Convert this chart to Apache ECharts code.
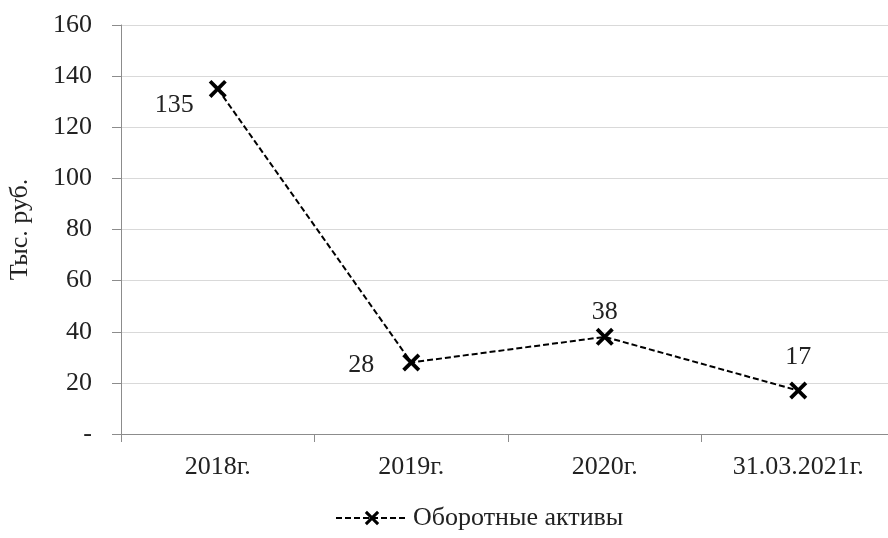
<!DOCTYPE html>
<html>
<head>
<meta charset="utf-8">
<script src="https://cdn.jsdelivr.net/npm/echarts@6/dist/echarts.min.js"></script>
<style>html,body{margin:0;padding:0;background:#fff;}#c{width:888px;height:538px;}</style>
</head>
<body>
<div id="c"></div>
<script>
var categories = ['2018г.', '2019г.', '2020г.', '31.03.2021г.'];
var values = [135, 28, 38, 17];
var seriesName = 'Оборотные активы';
var yTicks = [0, 20, 40, 60, 80, 100, 120, 140, 160];

var FONT = '"Liberation Serif", "Times New Roman", serif';
var FS = 26;
var xPath = 'path://M0,3 L3,0 L10,7 L17,0 L20,3 L13,10 L20,17 L17,20 L10,13 L3,20 L0,17 L7,10 Z';

var labelCfg = [
  {position: 'left', distance: 15, offset: [0, 16]},
  {position: 'left', distance: 28, offset: [0, 3]},
  {position: 'top', distance: 3, offset: [0, 0]},
  {position: 'top', distance: 11, offset: [0, 0]}
];

var data = values.map(function (v, i) {
  return {
    value: v,
    label: {show: true, position: labelCfg[i].position, distance: labelCfg[i].distance, offset: labelCfg[i].offset}
  };
});

var chart = echarts.init(document.getElementById('c'), null, {renderer: 'canvas'});
chart.setOption({
  animation: false,
  backgroundColor: '#fff',
  textStyle: {fontFamily: FONT},
  grid: {left: 121, top: 25, right: -7, bottom: 104, containLabel: false, outerBoundsMode: 'none'},
  legend: {
    bottom: 2,
    left: 330,
    itemWidth: 72,
    itemHeight: 18,
    itemGap: 8,
    textStyle: {fontFamily: FONT, fontSize: FS, color: '#222'},
    data: [seriesName]
  },
  xAxis: {
    type: 'category',
    data: categories,
    boundaryGap: true,
    axisLine: {show: true, lineStyle: {color: '#8c8c8c', width: 1}},
    axisTick: {show: true, length: 8, lineStyle: {color: '#8c8c8c'}},
    axisLabel: {fontFamily: FONT, fontSize: FS, color: '#222', margin: 20}
  },
  yAxis: {
    type: 'value',
    min: yTicks[0],
    max: yTicks[yTicks.length - 1],
    interval: 20,
    name: 'Тыс. руб.',
    nameLocation: 'middle',
    nameGap: 88,
    nameRotate: 90,
    nameTextStyle: {fontFamily: FONT, fontSize: FS, color: '#222'},
    axisLine: {show: true, lineStyle: {color: '#8c8c8c', width: 1}},
    axisTick: {show: true, inside: false, length: 9, lineStyle: {color: '#8c8c8c'}},
    splitLine: {show: true, lineStyle: {color: '#d9d9d9', width: 1}},
    axisLabel: {
      fontFamily: FONT, fontSize: FS, color: '#222', margin: 29,
      formatter: function (v) { return v === 0 ? '-' : String(v); }
    }
  },
  series: [{
    name: seriesName,
    type: 'line',
    data: data,
    symbol: xPath,
    symbolSize: 18,
    itemStyle: {color: '#000'},
    lineStyle: {color: '#000', width: 2, type: [6, 3]},
    label: {show: true, fontFamily: FONT, fontSize: FS, color: '#222'}
  }]
});
</script>
</body>
</html>
